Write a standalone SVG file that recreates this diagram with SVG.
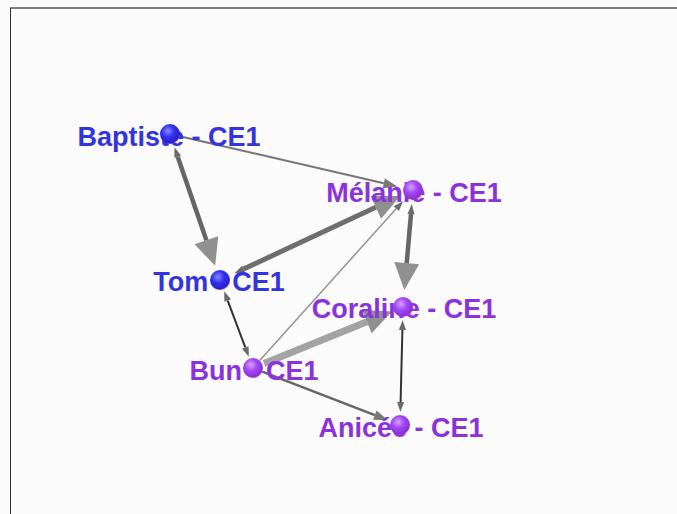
<svg xmlns="http://www.w3.org/2000/svg" width="677" height="514" viewBox="0 0 677 514">
<style>
.lbl{font-family:"Liberation Sans",Arial,sans-serif;font-weight:bold;font-size:27px;text-anchor:middle}
.blue{fill:#3434dc}
.purple{fill:#8a32dc}
.e{fill:none;stroke-linecap:butt}
</style>
<defs>
<radialGradient id="gBlue" cx="0.4" cy="0.35" r="0.7">
<stop offset="0" stop-color="#8a8aff"/>
<stop offset="0.45" stop-color="#3030ee"/>
<stop offset="0.85" stop-color="#2a20c8"/>
<stop offset="1" stop-color="#b040d8"/>
</radialGradient>
<radialGradient id="gPurple" cx="0.4" cy="0.35" r="0.7">
<stop offset="0" stop-color="#d8a0ff"/>
<stop offset="0.45" stop-color="#a048f4"/>
<stop offset="0.85" stop-color="#8a30d8"/>
<stop offset="1" stop-color="#e040c8"/>
</radialGradient>
<marker id="big" markerUnits="userSpaceOnUse" markerWidth="28" markerHeight="26" refX="0" refY="0" orient="auto-start-reverse" overflow="visible">
<path d="M0,-12.5 L27,0 L0,12.5 z" fill="#7c7c7c" fill-opacity="0.85"/>
</marker>
<marker id="med" markerUnits="userSpaceOnUse" markerWidth="14" markerHeight="10" refX="0" refY="0" orient="auto-start-reverse" overflow="visible">
<path d="M0,-5 L14,0 L0,5 z" fill="#6a6a6a" fill-opacity="0.9"/>
</marker>
<marker id="sm" markerUnits="userSpaceOnUse" markerWidth="10" markerHeight="7" refX="0" refY="0" orient="auto-start-reverse" overflow="visible">
<path d="M0,-3.5 L10,0 L0,3.5 z" fill="#5a5a5a" fill-opacity="0.9"/>
</marker>
</defs>
<rect x="0" y="0" width="677" height="514" fill="#fbfbfb"/>
<line x1="10" y1="8" x2="677" y2="8" stroke="#808080" stroke-width="2"/>
<line x1="10.5" y1="8" x2="10.5" y2="514" stroke="#333" stroke-width="1"/>
<g id="edges">
<line class="e" x1="177.7" y1="156.7" x2="206.4" y2="240.3" stroke="#555" stroke-opacity="0.9" stroke-width="4.5" marker-start="url(#sm)" marker-end="url(#big)"/>
<line class="e" x1="179.7" y1="136.2" x2="383.8" y2="183.3" stroke="#666" stroke-opacity="0.9" stroke-width="2" marker-end="url(#med)"/>
<line class="e" x1="243.6" y1="269.0" x2="375.8" y2="207.3" stroke="#555" stroke-opacity="0.85" stroke-width="5" marker-start="url(#sm)" marker-end="url(#big)"/>
<line class="e" x1="259.7" y1="360.6" x2="396.3" y2="208.6" stroke="#888" stroke-opacity="0.9" stroke-width="1.5" marker-end="url(#sm)"/>
<line class="e" x1="411" y1="214" x2="406.7" y2="263.2" stroke="#555" stroke-opacity="0.9" stroke-width="4.5" marker-start="url(#sm)" marker-end="url(#big)"/>
<line class="e" x1="264.1" y1="363.5" x2="366.9" y2="321.7" stroke="#999" stroke-opacity="0.9" stroke-width="7" marker-end="url(#big)"/>
<line class="e" x1="227.7" y1="300.6" x2="245.3" y2="347.4" stroke="#333" stroke-width="2" marker-start="url(#sm)" marker-end="url(#sm)"/>
<line class="e" x1="262.3" y1="371.6" x2="374.8" y2="415.2" stroke="#666" stroke-width="2.5" marker-end="url(#med)"/>
<line class="e" x1="402.4" y1="330" x2="400.6" y2="402" stroke="#333" stroke-width="2" marker-start="url(#sm)" marker-end="url(#sm)"/>
</g>
<g id="baptiste">
<text class="lbl blue" x="169" y="146">Baptiste - CE1</text>
<circle cx="170" cy="134" r="10" fill="url(#gBlue)"/>
</g>
<g id="melanie">
<text class="lbl purple" x="414" y="202">Mélanie - CE1</text>
<circle cx="413" cy="190" r="10" fill="url(#gPurple)"/>
</g>
<g id="tom">
<text class="lbl blue" x="219" y="291">Tom - CE1</text>
<circle cx="220" cy="280" r="10" fill="url(#gBlue)"/>
</g>
<g id="coraline">
<text class="lbl purple" x="404" y="318">Coraline - CE1</text>
<circle cx="403" cy="307" r="10" fill="url(#gPurple)"/>
</g>
<g id="bun">
<text class="lbl purple" x="254" y="380">Bun - CE1</text>
<circle cx="253" cy="368" r="10" fill="url(#gPurple)"/>
</g>
<g id="anicee">
<text class="lbl purple" x="401" y="437">Anicée - CE1</text>
<circle cx="400" cy="425" r="10" fill="url(#gPurple)"/>
</g>
</svg>
